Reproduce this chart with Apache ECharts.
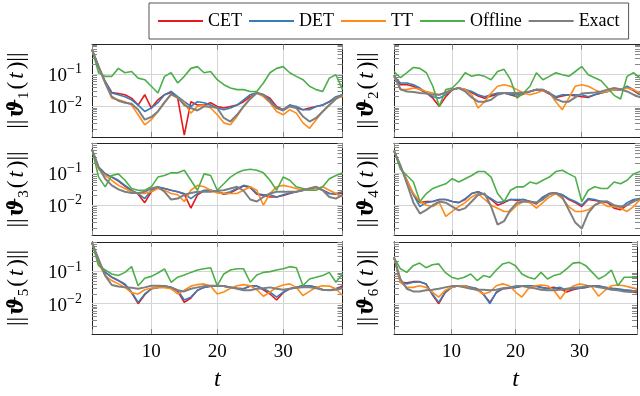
<!DOCTYPE html>
<html>
<head>
<meta charset="utf-8">
<script src="https://cdn.jsdelivr.net/npm/echarts@6/dist/echarts.min.js"></script>
<style>
  html, body { margin: 0; padding: 0; background: #fff; }
  #chart { width: 640px; height: 396px; }
</style>
</head>
<body>
<div id="chart"></div>
<script>
const tValues = [1,2,3,4,5,6,7,8,9,10,11,12,13,14,15,16,17,18,19,20,21,22,23,24,25,26,27,28,29,30,31,32,33,34,35,36,37,38,39];
const seriesNames = ['CET', 'DET', 'TT', 'Offline', 'Exact'];

// panel 1
const cet1 = [0.57,0.17,0.059,0.027,0.025,0.023,0.018,0.011,0.023,0.0089,0.016,0.023,0.027,0.018,0.0013,0.014,0.011,0.011,0.013,0.010,0.0089,0.010,0.011,0.014,0.020,0.026,0.023,0.018,0.010,0.0079,0.011,0.0089,0.0079,0.0089,0.010,0.011,0.014,0.018,0.023];
const det1 = [0.57,0.17,0.059,0.026,0.023,0.020,0.016,0.011,0.0070,0.0089,0.013,0.023,0.029,0.020,0.014,0.010,0.014,0.013,0.011,0.0089,0.0079,0.0089,0.011,0.016,0.023,0.027,0.023,0.016,0.0089,0.0079,0.011,0.010,0.0079,0.0079,0.010,0.011,0.014,0.020,0.023];
const tt1 = [0.57,0.16,0.053,0.018,0.016,0.014,0.011,0.0055,0.0027,0.0039,0.0070,0.014,0.023,0.018,0.013,0.0062,0.010,0.011,0.0089,0.0055,0.0031,0.0027,0.0049,0.010,0.018,0.026,0.020,0.013,0.0070,0.0055,0.0079,0.0062,0.0031,0.0021,0.0039,0.0070,0.011,0.018,0.020];
const off1 = [0.57,0.11,0.085,0.085,0.15,0.11,0.12,0.075,0.067,0.042,0.026,0.085,0.11,0.053,0.085,0.15,0.17,0.11,0.12,0.067,0.047,0.037,0.033,0.033,0.029,0.029,0.053,0.11,0.15,0.17,0.11,0.085,0.067,0.042,0.033,0.029,0.075,0.095,0.033];
const exact1 = [0.57,0.17,0.053,0.020,0.015,0.013,0.012,0.0079,0.0039,0.0047,0.0070,0.013,0.024,0.019,0.011,0.0089,0.0075,0.010,0.010,0.0089,0.0044,0.0034,0.0055,0.010,0.017,0.026,0.023,0.014,0.0089,0.0075,0.010,0.0089,0.0049,0.0034,0.0044,0.0070,0.011,0.017,0.023];

// panel 2
const cet2 = [0.085,0.047,0.047,0.042,0.033,0.026,0.018,0.010,0.020,0.033,0.037,0.033,0.027,0.021,0.018,0.021,0.024,0.026,0.023,0.020,0.024,0.029,0.033,0.031,0.024,0.019,0.021,0.023,0.021,0.020,0.019,0.023,0.026,0.029,0.033,0.033,0.039,0.031,0.023];
const det2 = [0.085,0.053,0.053,0.047,0.037,0.026,0.020,0.018,0.023,0.033,0.037,0.033,0.029,0.023,0.020,0.023,0.026,0.026,0.023,0.023,0.026,0.029,0.033,0.033,0.026,0.020,0.023,0.023,0.023,0.023,0.020,0.023,0.026,0.029,0.033,0.033,0.042,0.033,0.023];
const tt2 = [0.085,0.033,0.033,0.037,0.034,0.029,0.026,0.023,0.026,0.033,0.037,0.033,0.023,0.0089,0.014,0.026,0.042,0.047,0.042,0.033,0.026,0.023,0.026,0.031,0.027,0.014,0.0079,0.018,0.042,0.047,0.042,0.033,0.027,0.029,0.033,0.034,0.037,0.033,0.026];
const off2 = [0.12,0.077,0.11,0.16,0.15,0.11,0.042,0.010,0.033,0.037,0.059,0.11,0.085,0.095,0.085,0.067,0.12,0.14,0.067,0.018,0.026,0.042,0.11,0.067,0.085,0.11,0.095,0.085,0.12,0.17,0.095,0.077,0.062,0.037,0.022,0.017,0.085,0.11,0.075];
const exact2 = [0.095,0.034,0.029,0.028,0.026,0.025,0.023,0.023,0.027,0.033,0.037,0.029,0.019,0.014,0.014,0.016,0.023,0.026,0.026,0.026,0.027,0.029,0.033,0.033,0.026,0.017,0.014,0.014,0.019,0.025,0.026,0.027,0.029,0.033,0.037,0.034,0.029,0.023,0.019];

// panel 3
const cet3 = [0.53,0.15,0.093,0.074,0.056,0.039,0.028,0.022,0.012,0.026,0.035,0.033,0.029,0.026,0.022,0.0081,0.021,0.028,0.029,0.026,0.022,0.024,0.031,0.039,0.035,0.022,0.020,0.018,0.018,0.020,0.023,0.026,0.029,0.033,0.035,0.029,0.023,0.022,0.024];
const det3 = [0.53,0.15,0.093,0.074,0.059,0.041,0.029,0.023,0.016,0.029,0.037,0.033,0.029,0.026,0.023,0.016,0.023,0.029,0.029,0.026,0.023,0.026,0.033,0.041,0.037,0.023,0.021,0.021,0.018,0.021,0.024,0.026,0.029,0.033,0.037,0.029,0.023,0.023,0.026];
const tt3 = [0.53,0.13,0.083,0.059,0.041,0.033,0.026,0.023,0.023,0.026,0.033,0.029,0.023,0.021,0.013,0.029,0.041,0.037,0.029,0.024,0.023,0.023,0.023,0.029,0.037,0.029,0.010,0.023,0.037,0.041,0.037,0.033,0.029,0.029,0.033,0.037,0.029,0.023,0.018];
const off3 = [0.53,0.074,0.037,0.083,0.093,0.059,0.033,0.029,0.029,0.037,0.074,0.083,0.10,0.10,0.12,0.059,0.029,0.093,0.083,0.029,0.046,0.074,0.10,0.12,0.13,0.12,0.10,0.059,0.029,0.074,0.059,0.037,0.033,0.029,0.029,0.037,0.066,0.083,0.10];
const exact3 = [0.53,0.15,0.066,0.041,0.031,0.026,0.024,0.024,0.026,0.033,0.037,0.026,0.015,0.016,0.021,0.024,0.026,0.026,0.026,0.028,0.029,0.033,0.037,0.028,0.015,0.013,0.018,0.023,0.026,0.026,0.026,0.026,0.029,0.033,0.037,0.029,0.018,0.016,0.021];

// panel 4
const cet4 = [0.48,0.15,0.059,0.021,0.012,0.013,0.013,0.015,0.015,0.013,0.012,0.015,0.023,0.026,0.021,0.015,0.010,0.012,0.015,0.014,0.015,0.013,0.011,0.017,0.023,0.024,0.021,0.015,0.012,0.0091,0.015,0.014,0.013,0.012,0.0081,0.0072,0.010,0.014,0.016];
const det4 = [0.48,0.15,0.059,0.021,0.0091,0.012,0.013,0.015,0.015,0.013,0.012,0.016,0.023,0.026,0.021,0.016,0.012,0.013,0.015,0.015,0.015,0.013,0.012,0.018,0.023,0.024,0.021,0.016,0.013,0.010,0.016,0.015,0.013,0.013,0.0091,0.0081,0.012,0.015,0.016];
const tt4 = [0.48,0.15,0.059,0.023,0.013,0.010,0.0091,0.012,0.0045,0.0064,0.0091,0.012,0.018,0.023,0.015,0.010,0.0081,0.0064,0.0064,0.010,0.013,0.012,0.0081,0.012,0.018,0.023,0.016,0.0091,0.0064,0.0064,0.0072,0.010,0.012,0.0091,0.0091,0.0081,0.0064,0.0091,0.015];
const off4 = [0.48,0.13,0.083,0.052,0.013,0.023,0.033,0.039,0.046,0.066,0.052,0.066,0.083,0.11,0.11,0.074,0.023,0.013,0.029,0.037,0.037,0.052,0.046,0.059,0.074,0.11,0.12,0.093,0.074,0.013,0.029,0.037,0.033,0.033,0.052,0.046,0.059,0.093,0.11];
const exact4 = [0.48,0.17,0.046,0.012,0.0055,0.0072,0.010,0.013,0.012,0.0091,0.0069,0.0081,0.013,0.021,0.023,0.0091,0.0025,0.0032,0.0072,0.012,0.013,0.013,0.012,0.015,0.022,0.024,0.018,0.0072,0.0029,0.0019,0.0057,0.010,0.013,0.013,0.010,0.0091,0.010,0.013,0.016];

// panel 5
const cet5 = [0.77,0.19,0.093,0.066,0.052,0.038,0.022,0.010,0.019,0.029,0.032,0.035,0.032,0.024,0.011,0.015,0.026,0.032,0.035,0.036,0.035,0.032,0.030,0.029,0.035,0.035,0.027,0.020,0.013,0.022,0.029,0.032,0.036,0.036,0.032,0.027,0.026,0.029,0.035];
const det5 = [0.77,0.19,0.093,0.066,0.052,0.041,0.023,0.011,0.020,0.029,0.032,0.035,0.032,0.026,0.013,0.016,0.026,0.032,0.035,0.036,0.035,0.032,0.030,0.029,0.035,0.035,0.029,0.023,0.016,0.023,0.029,0.032,0.036,0.036,0.032,0.027,0.026,0.029,0.032];
const tt5 = [0.77,0.17,0.074,0.052,0.041,0.032,0.022,0.020,0.027,0.030,0.032,0.031,0.029,0.020,0.026,0.035,0.039,0.041,0.035,0.020,0.023,0.030,0.036,0.039,0.036,0.027,0.017,0.023,0.032,0.038,0.041,0.032,0.018,0.024,0.032,0.036,0.035,0.029,0.018];
const off5 = [0.77,0.15,0.11,0.083,0.074,0.093,0.14,0.036,0.061,0.070,0.089,0.12,0.046,0.066,0.077,0.093,0.11,0.12,0.13,0.036,0.083,0.11,0.12,0.12,0.046,0.077,0.093,0.098,0.11,0.12,0.14,0.13,0.036,0.058,0.066,0.074,0.093,0.046,0.083];
const exact5 = [0.77,0.24,0.074,0.038,0.034,0.032,0.031,0.029,0.032,0.036,0.036,0.035,0.032,0.026,0.024,0.029,0.032,0.035,0.036,0.036,0.035,0.032,0.029,0.026,0.026,0.029,0.030,0.032,0.029,0.027,0.029,0.031,0.032,0.032,0.030,0.027,0.026,0.027,0.030];

// panel 6
const cet6 = [0.27,0.046,0.044,0.048,0.048,0.041,0.019,0.010,0.022,0.032,0.036,0.036,0.032,0.029,0.019,0.011,0.022,0.029,0.030,0.032,0.035,0.036,0.036,0.032,0.030,0.032,0.029,0.023,0.027,0.030,0.032,0.036,0.035,0.032,0.030,0.027,0.026,0.024,0.022];
const det6 = [0.27,0.046,0.041,0.046,0.048,0.041,0.020,0.011,0.023,0.032,0.036,0.036,0.032,0.029,0.020,0.010,0.023,0.029,0.030,0.032,0.035,0.036,0.036,0.032,0.029,0.030,0.032,0.026,0.029,0.030,0.032,0.036,0.035,0.032,0.030,0.029,0.027,0.026,0.023];
const tt6 = [0.27,0.046,0.032,0.032,0.036,0.032,0.023,0.016,0.026,0.032,0.036,0.035,0.030,0.026,0.020,0.023,0.036,0.041,0.036,0.023,0.016,0.029,0.036,0.038,0.036,0.026,0.014,0.026,0.035,0.041,0.038,0.032,0.017,0.026,0.036,0.038,0.036,0.032,0.029];
const off6 = [0.27,0.12,0.093,0.15,0.18,0.13,0.16,0.17,0.093,0.066,0.058,0.066,0.083,0.052,0.074,0.066,0.11,0.17,0.19,0.15,0.083,0.066,0.058,0.093,0.058,0.074,0.083,0.12,0.18,0.19,0.15,0.093,0.058,0.074,0.11,0.036,0.066,0.066,0.066];
const exact6 = [0.27,0.058,0.029,0.024,0.024,0.026,0.027,0.029,0.032,0.035,0.035,0.032,0.029,0.027,0.027,0.026,0.027,0.030,0.032,0.035,0.035,0.032,0.030,0.027,0.026,0.026,0.027,0.029,0.031,0.032,0.035,0.035,0.032,0.030,0.027,0.026,0.024,0.023,0.026];

// log axis ticks (minor + major) and labelled decades
const yTickValues = [0.002,0.003,0.004,0.005,0.006,0.007,0.008,0.009,0.01,0.02,0.03,0.04,0.05,0.06,0.07,0.08,0.09,0.1,0.2,0.3,0.4,0.5,0.6,0.7,0.8];
const yLabelValues = [0.01, 0.1];
const yGridValues = [0.01, 0.1];

const panels = [
  [cet1, det1, tt1, off1, exact1],
  [cet2, det2, tt2, off2, exact2],
  [cet3, det3, tt3, off3, exact3],
  [cet4, det4, tt4, off4, exact4],
  [cet5, det5, tt5, off5, exact5],
  [cet6, det6, tt6, off6, exact6]
];

const colors = ['#e41a1c', '#377eb8', '#ff8c1a', '#4daf4a', '#7f7f7f'];
const serif = 'Liberation Serif';
const gridLeft = [92, 394];
const gridTop = [44.5, 143.3, 241.8];
const gridW = 250.5, gridH = 92.3;
const yMin = 0.00115, yMax = 0.82;

const frame = { show: true, onZero: false, lineStyle: { color: '#222', width: 1 } };
const yTick = { show: true, inside: true, length: 5, customValues: yTickValues, lineStyle: { color: '#888', width: 1 } };
const xTick = { show: true, inside: true, length: 5, lineStyle: { color: '#888', width: 1 } };

const grid = [], xAxis = [], yAxis = [], series = [];

panels.forEach((lines, i) => {
  const row = Math.floor(i / 2), col = i % 2;
  const bottomRow = row === 2;
  grid.push({ left: gridLeft[col], top: gridTop[row], width: gridW, height: gridH });

  xAxis.push({
    gridIndex: i, type: 'value', min: 1, max: 39, splitNumber: 4, position: 'bottom',
    axisLine: frame, axisTick: xTick,
    axisLabel: {
      show: bottomRow, color: '#000', fontFamily: serif, fontSize: 19, margin: 8,
      formatter: v => (v % 10 === 0 ? String(v) : '')
    },
    splitLine: { show: true, lineStyle: { color: '#d4d4d4', width: 1 } },
    name: bottomRow ? 't' : '', nameLocation: 'middle', nameGap: 34,
    nameTextStyle: { fontFamily: serif, fontStyle: 'italic', fontSize: 24, color: '#000' }
  });
  xAxis.push({
    gridIndex: i, type: 'value', min: 1, max: 39, splitNumber: 4, position: 'top',
    axisLine: frame, axisTick: xTick,
    axisLabel: { show: false }, splitLine: { show: false }
  });

  yAxis.push({
    gridIndex: i, type: 'log', logBase: 10, min: yMin, max: yMax, position: 'left',
    axisLine: frame, axisTick: yTick,
    axisLabel: {
      show: col === 0, customValues: yLabelValues, margin: 10,
      formatter: v => (v > 0.05 ? '{b|10}{s|\u22121}' : '{b|10}{s|\u22122}'),
      rich: {
        b: { fontFamily: serif, fontSize: 19, color: '#000', verticalAlign: 'bottom' },
        s: { fontFamily: serif, fontSize: 14, color: '#000', verticalAlign: 'bottom', padding: [0, 0, 9, 0] }
      }
    },
    splitLine: { show: false },
    name: '{n|||}{v|\u03d1}{s|' + (i + 1) + '}{n|(}{i|t}{n|)||}',
    nameLocation: 'middle', nameRotate: 90, nameGap: col === 0 ? 60 : 12,
    nameTextStyle: {
      rich: {
        n: { fontFamily: serif, fontSize: 23, color: '#000', verticalAlign: 'bottom', padding: [0, 1, 4, 1] },
        v: { fontFamily: 'DejaVu Serif', fontSize: 22, fontWeight: 'bold', fontStyle: 'italic', color: '#000', verticalAlign: 'bottom', padding: [0, 0, 4, 1] },
        s: { fontFamily: serif, fontSize: 15, color: '#000', verticalAlign: 'bottom', padding: [0, 1, 0, 0] },
        i: { fontFamily: serif, fontSize: 23, fontStyle: 'italic', color: '#000', verticalAlign: 'bottom', padding: [0, 2, 4, 2] }
      }
    }
  });
  yAxis.push({
    gridIndex: i, type: 'log', logBase: 10, min: yMin, max: yMax, position: 'right',
    axisLine: frame, axisTick: yTick,
    axisLabel: { show: false }, splitLine: { show: false }
  });

  lines.forEach((vals, k) => {
    const s = {
      type: 'line', name: seriesNames[k],
      xAxisIndex: 2 * i, yAxisIndex: 2 * i,
      data: tValues.map((t, j) => [t, vals[j]]),
      symbol: 'none', silent: true, animation: false,
      lineStyle: { color: colors[k], width: k === 4 ? 2 : 1.6 },
      itemStyle: { color: colors[k] }
    };
    if (k === 0) {
      // horizontal grid lines at the labelled decades
      s.markLine = {
        z: 1, silent: true, symbol: 'none', animation: false,
        label: { show: false },
        lineStyle: { color: '#d4d4d4', width: 1, type: 'solid' },
        data: yGridValues.map(v => ({ yAxis: v }))
      };
    }
    series.push(s);
  });
});

const chart = echarts.init(document.getElementById('chart'));
chart.setOption({
  animation: false,
  backgroundColor: '#fff',
  legend: {
    data: seriesNames, left: 149, top: 3, padding: [9, 9], itemGap: 7,
    icon: 'rect', itemWidth: 45, itemHeight: 2,
    borderColor: '#555', borderWidth: 1,
    textStyle: { fontFamily: serif, fontSize: 18, color: '#000' }
  },
  grid, xAxis, yAxis, series
});
</script>
</body>
</html>
